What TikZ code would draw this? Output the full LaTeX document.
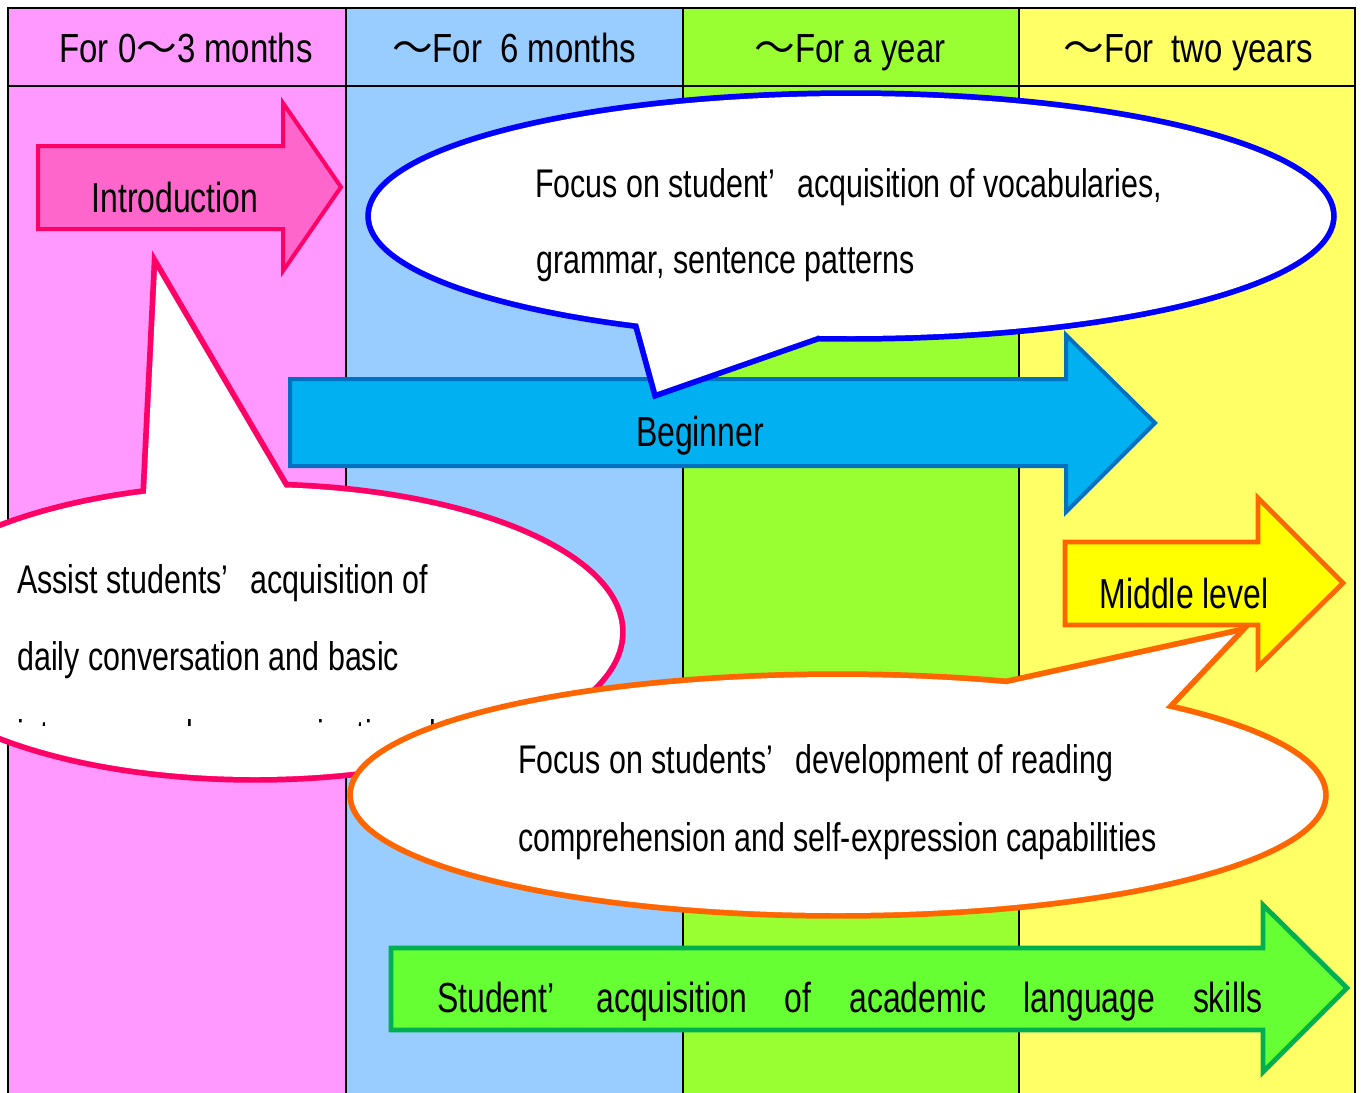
\documentclass[tikz,border=0pt]{standalone}
\usepackage{fontspec}
\setmainfont{Liberation Sans}[FakeStretch=0.76]
\newfontfamily\hfont{Liberation Sans}[FakeStretch=0.81]
\newfontfamily\cjk{Noto Sans CJK JP}
\definecolor{colA}{HTML}{FF99FF}
\definecolor{colB}{HTML}{99CCFF}
\definecolor{colC}{HTML}{99FF33}
\definecolor{colD}{HTML}{FFFF66}
\definecolor{introfill}{HTML}{FF66CC}
\definecolor{introline}{HTML}{FF0066}
\definecolor{begfill}{HTML}{00B0F0}
\definecolor{begline}{HTML}{0070C0}
\definecolor{bubblue}{HTML}{0000FF}
\definecolor{midfill}{HTML}{FFFF00}
\definecolor{orangeline}{HTML}{FF6600}
\definecolor{acadfill}{HTML}{66FF33}
\definecolor{acadline}{HTML}{00B050}
\newcommand{\wave}{{\cjk 〜}}
\newcommand{\apos}{’\hspace{0.55em}}
\tikzset{
  txt/.style={inner sep=0pt, font=\fontsize{31.5}{36}\selectfont},
  btxt/.style={inner sep=0pt, font=\fontsize{30}{36}\selectfont},
  htxt/.style={inner sep=0pt, font=\hfont\fontsize{30.5}{36}\selectfont},
  bigarrow/.style={line width=3pt, miter limit=20, line join=miter},
  bubstroke/.style={line width=8.6pt, line join=miter, miter limit=20},
}
\begin{document}
\begin{tikzpicture}[x=0.75pt,y=-0.75pt]
\useasboundingbox (0,0) rectangle (1362,1092);
\clip (0,0) rectangle (1362,1092);
% columns
\fill[white] (0,0) rectangle (1362,1092);
\fill[colA] (8,8) rectangle (346,1100);
\fill[colB] (346,8) rectangle (683,1100);
\fill[colC] (683,8) rectangle (1019,1100);
\fill[colD] (1019,8) rectangle (1355,1100);
\draw[line width=1.2pt] (346,8) -- (346,1100);
\draw[line width=1.2pt] (683,8) -- (683,1100);
\draw[line width=1.2pt] (1019,8) -- (1019,1100);
\draw[line width=1.5pt] (8,86) -- (1355,86);
\draw[line width=2pt] (8,1100) -- (8,8) -- (1355,8) -- (1355,1100);
% headers
\node[htxt, anchor=base] (h1) at (186,62) {For 0\wave3 months};
\node[htxt, anchor=base] (h2) at (514,62) {\wave For\ \ 6 months};
\node[htxt, anchor=base] (h3) at (850,62) {\wave For a year};
\node[htxt, anchor=base] (h4) at (1188,62) {\wave For\ \ two years};
% Introduction arrow
\draw[bigarrow, draw=introline, fill=introfill] (38,146) -- (283,146) -- (283,103) -- (341,187) -- (283,271) -- (283,229) -- (38,229) -- cycle;
\node[txt, anchor=base] (intro) at (175,212) {Introduction};
% Beginner arrow
\draw[bigarrow, draw=begline, fill=begfill] (290,379) -- (1066,379) -- (1066,335) -- (1155,423) -- (1066,512) -- (1066,466) -- (290,466) -- cycle;
\node[txt, anchor=base] (beg) at (700,446) {Beginner};
% Middle level arrow
\draw[bigarrow, draw=orangeline, fill=midfill, line width=3.6pt] (1065,542) -- (1258,542) -- (1258,498) -- (1343,583) -- (1258,667) -- (1258,625) -- (1065,625) -- cycle;
\node[txt, anchor=base] (mid) at (1184,608) {Middle level};
% Academic arrow
\draw[bigarrow, draw=acadline, fill=acadfill, line width=3.6pt] (391,948) -- (1263,948) -- (1263,905) -- (1347,988) -- (1263,1072) -- (1263,1030) -- (391,1030) -- cycle;
\node[txt, anchor=base west] (acad) at (437,1012) {\makebox[618.75pt][s]{Student’\hspace{1em}acquisition of academic language skills}};
% Blue bubble
\draw[bubstroke, draw=bubblue] (851,216) ellipse [x radius=360pt, y radius=90pt];
\draw[bubstroke, draw=bubblue] (638,323) -- (657,392) -- (817,336) -- (851,216) -- cycle;
\fill[white] (851,216) ellipse [x radius=360pt, y radius=90pt];
\fill[white] (638,323) -- (657,392) -- (817,336) -- (851,216) -- cycle;
\node[btxt, anchor=base west] (b1) at (535,197) {Focus on student\apos acquisition of vocabularies,};
\node[btxt, anchor=base west] (b2) at (536,273) {grammar, sentence patterns};
% Pink bubble
\draw[bubstroke, draw=introline] (255,632) ellipse [x radius=273.75pt, y radius=108.75pt];
\draw[bubstroke, draw=introline] (146,494) -- (157,270) -- (285,488) -- (255,632) -- cycle;
\fill[white] (255,632) ellipse [x radius=273.75pt, y radius=108.75pt];
\fill[white] (146,494) -- (157,270) -- (285,488) -- (255,632) -- cycle;
\node[btxt, anchor=base west] (p1) at (17,593) {Assist students\apos acquisition of};
\node[btxt, anchor=base west] (p2) at (17,670) {daily conversation and basic};
\begin{scope}
\clip (0,700) rectangle (700,725);
\node[btxt, anchor=base west] (p3) at (17,748) {interpersonal communication skills};
\end{scope}
% Orange bubble
\draw[bubstroke, draw=orangeline] (838,795) ellipse [x radius=363.75pt, y radius=88.5pt];
\draw[bubstroke, draw=orangeline] (1008,684) -- (1235,634) -- (1165,708) -- (838,795) -- cycle;
\fill[white] (838,795) ellipse [x radius=363.75pt, y radius=88.5pt];
\fill[white] (1008,684) -- (1235,634) -- (1165,708) -- (838,795) -- cycle;
\node[btxt, anchor=base west] (o1) at (518,773) {Focus on students\apos development of reading};
\node[btxt, anchor=base west] (o2) at (518,851) {comprehension and self-expression capabilities};
\end{tikzpicture}
\end{document}
